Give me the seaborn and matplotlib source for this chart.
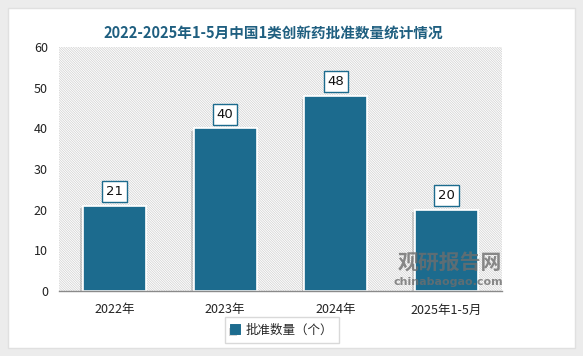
import matplotlib
matplotlib.use('Agg')
import matplotlib.pyplot as plt
import seaborn as sns
import pandas as pd
from matplotlib.patches import Rectangle
import matplotlib.patheffects as pe

categories = ['2022年', '2023年', '2024年', '2025年1-5月']
values = [21, 40, 48, 20]
series_name = '批准数量（个）'
title = '2022-2025年1-5月中国1类创新药批准数量统计情况'

sns.set_style('white')
plt.rcParams['font.family'] = ['Noto Sans CJK SC', 'DejaVu Sans']
plt.rcParams['hatch.linewidth'] = 0.5

bar_color = '#1c6b8e'

fig = plt.figure(figsize=(5.83, 3.56), dpi=100)
fig.patch.set_facecolor('#ececec')
# white card behind everything
fig.patches.append(Rectangle((8 / 583, 8 / 356), 567 / 583, 340 / 356,
                             transform=fig.transFigure, facecolor='white',
                             edgecolor='#e0e0e0', lw=1, zorder=-10))

ax = fig.add_axes([59 / 583, 1 - 291 / 356, 443 / 583, 244 / 356])
ax.set_zorder(1)
ax.set_facecolor('none')
ax.add_patch(Rectangle((0, 0), 1, 1, transform=ax.transAxes, facecolor='white',
                       edgecolor='#cfcfcf', lw=0, hatch='\\' * 14, zorder=0))

df = pd.DataFrame({'cat': categories, 'val': values})
sns.barplot(data=df, x='cat', y='val', color=bar_color, width=0.57, ax=ax,
            saturation=1, edgecolor='white', linewidth=1.2, zorder=2,
            label=series_name)
for p in ax.patches[1:]:
    p.set_path_effects([pe.withSimplePatchShadow(offset=(-2, -2), shadow_rgbFace='#888888', alpha=0.35),
                        pe.Normal()])

for i, v in enumerate(values):
    ax.annotate(str(v), (i, v), xytext=(0, 10), textcoords='offset points',
                ha='center', va='center', fontsize=9.5, color='#111111',
                family=['DejaVu Sans'],
                bbox=dict(boxstyle='square,pad=0.3', fc='white', ec=bar_color, lw=1),
                zorder=5)

ax.set_ylim(0, 60)
ax.set_yticks(range(0, 61, 10))
ax.set_xlim(-0.5, 3.5)
ax.set_xlabel('')
ax.set_ylabel('')
for s in ['top', 'right', 'left']:
    ax.spines[s].set_visible(False)
ax.spines['bottom'].set_color('#8a8a8a')
ax.spines['bottom'].set_linewidth(1)
ax.tick_params(axis='both', length=0, labelsize=9, colors='#222222')
ax.tick_params(axis='x', pad=9)
ax.tick_params(axis='y', pad=8)

fig.text(273 / 583, 1 - 33 / 356, title, ha='center', va='center', fontsize=10.5,
         fontweight='bold', color='#1f5f80')

# watermark
fig.text(450 / 583, 1 - 262 / 356, '观研报告网', ha='center', va='center', fontsize=15,
         fontweight='bold', color='#6e6e6e', alpha=0.8, zorder=6)
fig.text(448 / 583, 1 - 282 / 356, 'chinabaogao.com', ha='center', va='center', fontsize=8,
         fontweight='bold', color='#6e6e6e', alpha=0.8, zorder=6, family=['DejaVu Sans'])

leg = ax.legend(loc='center', bbox_to_anchor=(282 / 583, 1 - 330 / 356),
                bbox_transform=fig.transFigure, frameon=True, fancybox=False,
                fontsize=9, handlelength=0.7, handleheight=0.7, borderpad=0.5,
                handletextpad=0.4)
leg.get_frame().set_edgecolor('#d0d0d0')
leg.get_frame().set_linewidth(1)
for h in leg.legend_handles:
    h.set_edgecolor(bar_color)

fig.savefig('out.png', dpi=100, facecolor=fig.get_facecolor())
